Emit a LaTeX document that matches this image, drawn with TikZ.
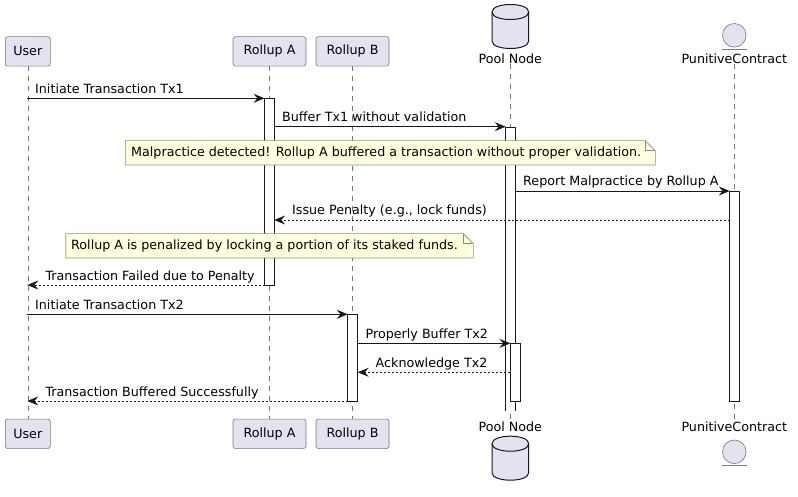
\documentclass[tikz,border=0pt]{standalone}
\usepackage{fontspec}
\setmainfont{DejaVu Sans}
\usetikzlibrary{arrows.meta}
\definecolor{partfill}{HTML}{E2E2F0}
\definecolor{notefill}{HTML}{FEFFDD}
\definecolor{lineclr}{HTML}{181818}
\definecolor{bordclr}{HTML}{7A7A7A}
\definecolor{noteborder}{HTML}{8F8F78}
\begin{document}
\begin{tikzpicture}[x=1pt,y=-1pt,
  font=\fontsize{12.7}{15}\selectfont,
  part/.style={draw=bordclr, line width=0.6pt, fill=partfill, rounded corners=2.5pt,
    minimum height=29.5pt, inner sep=0pt},
  lbl/.style={inner sep=0pt},
  life/.style={draw=lineclr!60, line width=0.5pt, dash pattern=on 5pt off 5pt},
  actbar/.style={draw=lineclr, fill=white, line width=0.8pt},
  msg/.style={draw=lineclr, line width=0.8pt, -{Stealth[length=11pt,width=9pt,inset=4pt]}},
  ret/.style={msg, dash pattern=on 2pt off 2pt},
  mtext/.style={anchor=base west, inner sep=0pt},
  notebox/.style={draw=noteborder, fill=notefill, line width=0.6pt},
  notetext/.style={anchor=west, inner sep=0pt},
  dbshape/.style={draw=lineclr, fill=partfill, line width=1pt},
  entshape/.style={draw=bordclr, fill=partfill, line width=0.6pt}
]
\useasboundingbox (0,0) rectangle (798,497);

% ---- participants (top) ----
\node[part, minimum width=45pt] (uT) at (27.8,51.4) {User};
\node[part, minimum width=73pt] (aT) at (269.5,51.4) {Rollup A};
\node[part, minimum width=73pt] (bT) at (352.5,51.4) {Rollup B};
\node[lbl] (pT) at (510.3,58.5) {Pool Node};
\node[lbl] (cT) at (734.3,58.5) {PunitiveContract};
% ---- participants (bottom) ----
\node[part, minimum width=45pt] (uB) at (27.8,433.8) {User};
\node[part, minimum width=73pt] (aB) at (269.5,433.8) {Rollup A};
\node[part, minimum width=73pt] (bB) at (352.5,433.8) {Rollup B};
\node[lbl] (pB) at (510.3,426.5) {Pool Node};
\node[lbl] (cB) at (734.3,426.5) {PunitiveContract};

% database shapes
\path[dbshape] (492,12) .. controls (492,2) and (528.7,2) .. (528.7,12) -- (528.7,41)
  .. controls (528.7,51) and (492,51) .. (492,41) -- cycle;
\draw[dbshape, fill=none] (492,12) .. controls (492,22) and (528.7,22) .. (528.7,12);
\path[dbshape] (492,443.7) .. controls (492,433.7) and (528.7,433.7) .. (528.7,443.7) -- (528.7,472.7)
  .. controls (528.7,482.7) and (492,482.7) .. (492,472.7) -- cycle;
\draw[dbshape, fill=none] (492,443.7) .. controls (492,453.7) and (528.7,453.7) .. (528.7,443.7);

% entity shapes
\draw[entshape] (734.3,35.3) circle[radius=11.8];
\draw[bordclr, line width=0.8pt] (722,49.3) -- (746.7,49.3);
\draw[entshape] (734.3,451.8) circle[radius=11.8];
\draw[bordclr, line width=0.8pt] (722,465) -- (746.7,465);

% ---- lifelines ----
\draw[life] (uT.south) -- (uB.north);
\draw[life] (aT.south) -- (aB.north);
\draw[life] (bT.south) -- (bB.north);
\draw[life] (pT.south) -- (pB.north);
\draw[life] (cT.south) -- (cB.north);

% ---- activation bars ----
\path[actbar] (264.5,98.3) rectangle (274.2,285);
\fill[white] (505.7,127) rectangle (515.3,410.7);
\draw[lineclr, line width=0.8pt] (505.7,410.7) -- (505.7,127) -- (515.3,127) -- (515.3,410.7);
\path[actbar] (729.7,191) rectangle (739.3,401);
\path[actbar] (347.7,314.3) rectangle (357.7,401);
\path[actbar] (510.3,343.3) rectangle (520.3,401);

% ---- message endpoints ----
\coordinate (m1s) at (27.3,98.3);   \coordinate (m1e) at (264.5,98.3);
\coordinate (m2s) at (274.2,126.7); \coordinate (m2e) at (505.7,126.7);
\coordinate (m3s) at (515.3,191);   \coordinate (m3e) at (729.7,191);
\coordinate (m4s) at (729.7,220);   \coordinate (m4e) at (274.2,220);
\coordinate (m5s) at (264.5,285);   \coordinate (m5e) at (27.3,285);
\coordinate (m6s) at (27.3,314.3);  \coordinate (m6e) at (347.7,314.3);
\coordinate (m7s) at (357.7,343.3); \coordinate (m7e) at (510.3,343.3);
\coordinate (m8s) at (510.3,372.3); \coordinate (m8e) at (357.7,372.3);
\coordinate (m9s) at (347.7,401);   \coordinate (m9e) at (27.3,401);

\draw[msg] (m1s) -- (m1e);
\node[mtext] (t1) at (35,93.3) {Initiate Transaction Tx1};
\draw[msg] (m2s) -- (m2e);
\node[mtext] (t2) at (282,121.7) {Buffer Tx1 without validation};

% note 1
\path[notebox] (125.3,140.7) -- (645.3,140.7) -- (655.3,150.7) -- (655.3,165) -- (125.3,165) -- cycle;
\draw[noteborder, line width=0.6pt] (645.3,140.7) -- (645.3,150.7) -- (655.3,150.7);
\node[notetext] (n1) at (131,153) {Malpractice detected! Rollup A buffered a transaction without proper validation.};

\draw[msg] (m3s) -- (m3e);
\node[mtext] (t3) at (523,186) {Report Malpractice by Rollup A};
\draw[ret] (m4s) -- (m4e);
\node[mtext] (t4) at (292,215) {Issue Penalty (e.g., lock funds)};

% note 2
\path[notebox] (65.7,233.7) -- (463.3,233.7) -- (473.3,243.7) -- (473.3,258) -- (65.7,258) -- cycle;
\draw[noteborder, line width=0.6pt] (463.3,233.7) -- (463.3,243.7) -- (473.3,243.7);
\node[notetext] (n2) at (71,246) {Rollup A is penalized by locking a portion of its staked funds.};

\draw[ret] (m5s) -- (m5e);
\node[mtext] (t5) at (45.3,280) {Transaction Failed due to Penalty};
\draw[msg] (m6s) -- (m6e);
\node[mtext] (t6) at (35,309.3) {Initiate Transaction Tx2};
\draw[msg] (m7s) -- (m7e);
\node[mtext] (t7) at (365.5,338.3) {Properly Buffer Tx2};
\draw[ret] (m8s) -- (m8e);
\node[mtext] (t8) at (375.5,367.3) {Acknowledge Tx2};
\draw[ret] (m9s) -- (m9e);
\node[mtext] (t9) at (45.3,396) {Transaction Buffered Successfully};
\end{tikzpicture}
\end{document}
